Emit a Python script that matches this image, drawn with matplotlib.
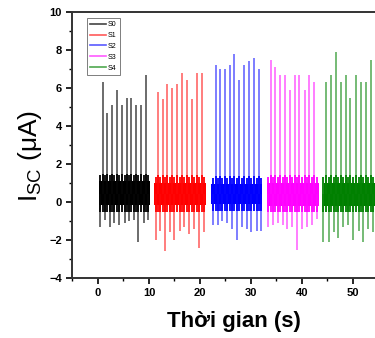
import numpy as np
import matplotlib
matplotlib.use("Agg")
import matplotlib.pyplot as plt
from matplotlib.ticker import MultipleLocator

plt.rcParams['font.family']=['Liberation Sans','DejaVu Sans']
plt.rcParams['mathtext.fontset']='custom'
plt.rcParams['mathtext.rm']='Liberation Sans'

names=["S0","S1","S2","S3","S4"]
band_colors=["#000000","#ff0000","#0000ff","#ff00ff","#008000"]
spike_colors=["#444444","#ff5a5a","#5a5aff","#ff5aff","#4fa84f"]
starts=[0.2,11.0,22.1,33.2,44.3]
ends=[10.2,21.2,32.2,43.4,55.0]
band_low=[-0.15,-0.15,-0.1,-0.2,-0.2]
band_high=[1.1,1.0,0.95,1.0,1.0]

peak_t=[[0.9,1.8,2.7,3.7,4.7,5.6,6.5,7.5,8.5,9.5],
        [11.8,12.7,13.6,14.6,15.5,16.5,17.4,18.4,19.4,20.3],
        [23.1,24.0,24.9,25.8,26.7,27.7,28.7,29.7,30.6,31.6],
        [33.9,34.8,35.7,36.7,37.6,38.6,39.5,40.5,41.4,42.4],
        [44.7,45.7,46.7,47.6,48.6,49.5,50.5,51.6,52.5,53.5]]
peak_v=[[6.3,4.7,5.1,5.9,5.1,5.5,5.5,5.1,5.1,6.7],
        [5.8,5.4,6.2,6.0,6.2,6.8,6.4,5.4,6.8,6.8],
        [7.2,7.0,7.0,7.2,7.8,6.4,7.2,7.4,7.6,7.0],
        [7.5,7.1,6.7,6.7,5.9,6.7,6.7,5.9,6.7,6.3],
        [6.3,6.7,7.9,6.3,6.7,5.5,6.7,6.3,6.3,7.5]]
neg_t=[[0.45,1.4,2.3,3.2,4.1,5.2,6.1,7.0,7.9,9.0,9.9],
       [11.3,12.2,13.2,14.1,15.0,16.0,16.9,17.9,18.9,19.8,20.8],
       [22.6,23.5,24.4,25.3,26.2,27.2,28.2,29.2,30.1,31.1,32.0],
       [33.4,34.3,35.2,36.2,37.1,38.1,39.0,40.0,40.9,41.9,42.9],
       [44.2,45.2,46.2,47.1,48.1,49.0,50.0,51.1,52.0,53.0,54.0]]
neg_v=[[-1.3,-0.95,-1.3,-1.1,-1.2,-1.1,-1.0,-0.95,-2.1,-1.1,-0.95],
       [-2.0,-1.5,-2.6,-1.6,-2.0,-1.5,-1.3,-1.7,-1.4,-2.4,-1.6],
       [-1.2,-1.2,-1.0,-1.1,-1.4,-2.0,-1.3,-1.4,-1.6,-1.5,-1.5],
       [-1.3,-1.2,-1.1,-1.2,-1.4,-1.3,-2.5,-1.4,-1.3,-1.2,-0.9],
       [-2.1,-2.1,-1.6,-1.9,-1.3,-1.2,-2.0,-1.5,-2.1,-1.4,-1.6]]

fig=plt.figure(figsize=(3.75,3.38),dpi=100)
ax=fig.add_axes([0.1933,0.1775,0.816,0.787])

for i in range(len(names)):
    ax.vlines(peak_t[i],0.4,peak_v[i],color=spike_colors[i],lw=1.1)
    ax.vlines(neg_t[i],0.4,neg_v[i],color=spike_colors[i],lw=1.1)
    ax.fill_between([starts[i],ends[i]],band_low[i],band_high[i],color=band_colors[i],lw=0)
    # ragged edges of the dense band
    ax.vlines(peak_t[i],band_low[i]-0.35,band_high[i]+0.4,color=band_colors[i],lw=1.3)
    ax.vlines(neg_t[i],band_low[i]-0.35,band_high[i]+0.3,color=band_colors[i],lw=1.3)
    ax.plot([],[],color=spike_colors[i],lw=1.2,label=names[i])

ax.set_xlim(-5,55)
ax.set_ylim(-4,10)
ax.xaxis.set_major_locator(MultipleLocator(10))
ax.xaxis.set_minor_locator(MultipleLocator(5))
ax.yaxis.set_major_locator(MultipleLocator(2))
ax.yaxis.set_minor_locator(MultipleLocator(1))
ax.tick_params(which='major',direction='out',length=4,width=1.2,labelsize=8)
ax.tick_params(which='minor',direction='out',length=2.5,width=1.0)
for lab in ax.get_xticklabels()+ax.get_yticklabels():
    lab.set_fontweight('bold')
for sp in ['left','bottom','top']:
    ax.spines[sp].set_linewidth(1.4)
    ax.spines[sp].set_color('#333333')
ax.spines['right'].set_visible(False)

ax.set_xlabel("Thời gian (s)",fontsize=16,fontweight='bold',labelpad=9)
ax.xaxis.label.set_x(0.528)
ax.set_ylabel("I$_{\\mathrm{SC}}$ (μA)",fontsize=19,labelpad=4)
ax.yaxis.label.set_y(0.46)

leg=ax.legend(loc='upper left',bbox_to_anchor=(0.035,0.99),fontsize=5,frameon=True,fancybox=False,
              handlelength=2.4,borderpad=0.45,labelspacing=0.55,handletextpad=0.2)
leg.get_frame().set_edgecolor('#444444')
leg.get_frame().set_linewidth(0.6)
leg.set_zorder(5)

fig.savefig("out.png",dpi=100)
